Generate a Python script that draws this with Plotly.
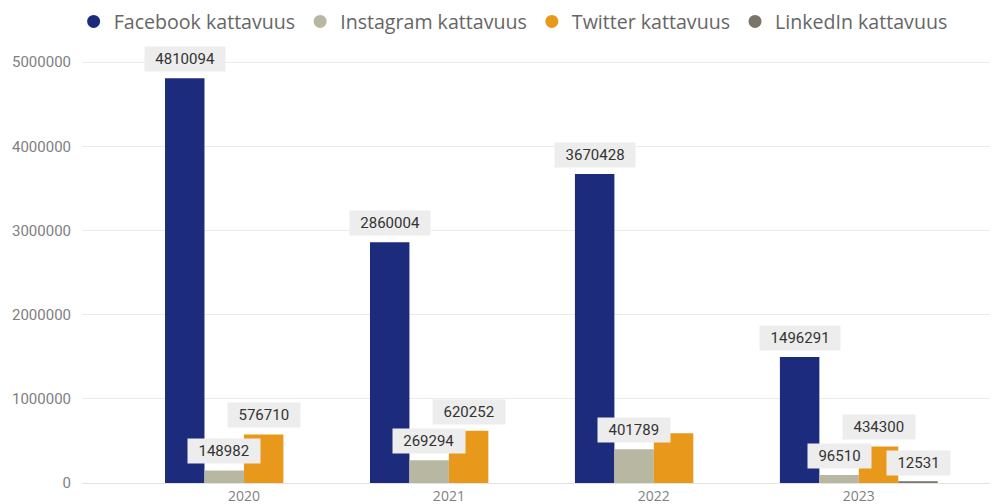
import plotly.graph_objects as go

years = ["2020", "2021", "2022", "2023"]
facebook = [4810094, 2860004, 3670428, 1496291]
instagram = [148982, 269294, 401789, 96510]
twitter = [576710, 620252, 590000, 434300]
linkedin = [None, None, None, 12531]

series_names = ["Facebook kattavuus", "Instagram kattavuus", "Twitter kattavuus", "LinkedIn kattavuus"]
series_values = [facebook, instagram, twitter, linkedin]
colors = ["#1C2B7B", "#B8B8A2", "#E8991B", "#7A7469"]
# Power BI hid this label because it overlapped
hidden_labels = [("Twitter kattavuus", "2022")]

BAR_PX = 39.5
fig = go.Figure()
for name, vals, col in zip(series_names, series_values, colors):
    fig.add_trace(go.Bar(x=years, y=vals, name=name, marker=dict(color=col, line=dict(width=0)),
                         showlegend=False, hoverinfo="y"))
    fig.add_trace(go.Scatter(x=[None], y=[None], mode="markers", name=name,
                             marker=dict(color=col, size=13, symbol="circle")))

annotations = []
for i, (name, vals) in enumerate(zip(series_names, series_values)):
    for j, (yr, v) in enumerate(zip(years, vals)):
        if v is None or (name, yr) in hidden_labels:
            continue
        txt = str(v)
        annotations.append(dict(
            x=j, y=v, xref="x", yref="y", text=txt, showarrow=False,
            xshift=(i - 1.5) * BAR_PX, yshift=6, yanchor="bottom",
            width=8.6 * len(txt) + 14,
            font=dict(family="Roboto", size=15, color="#333333"),
            bgcolor="#EDEDED", borderpad=3,
        ))

fig.update_layout(
    width=995, height=504, template="plotly_white",
    plot_bgcolor="white", paper_bgcolor="white",
    margin=dict(l=82, r=5, t=40, b=21),
    barmode="group", bargap=0.23, bargroupgap=0,
    annotations=annotations,
    legend=dict(orientation="h", xref="container", yref="container", x=0.074, xanchor="left",
                y=0.957, yanchor="middle", font=dict(family="Open Sans", size=19.6, color="#666666"),
                itemwidth=30, tracegroupgap=0),
    xaxis=dict(type="category", range=[-0.79, 3.64], showline=True, linecolor="#E3E3E3", linewidth=1,
               showgrid=False, ticks="", automargin=False,
               tickfont=dict(family="Open Sans", size=14, color="#808080")),
    yaxis=dict(range=[0, 5250000], dtick=1000000, tickformat="d", showgrid=True,
               gridcolor="#EBEBEB", zeroline=False, ticks="", ticklabelstandoff=10, automargin=False,
               tickfont=dict(family="Roboto", size=15, color="#808080")),
)

fig.write_html("out.html", config={"displayModeBar": False},
               post_script="document.body.style.margin='0';")
